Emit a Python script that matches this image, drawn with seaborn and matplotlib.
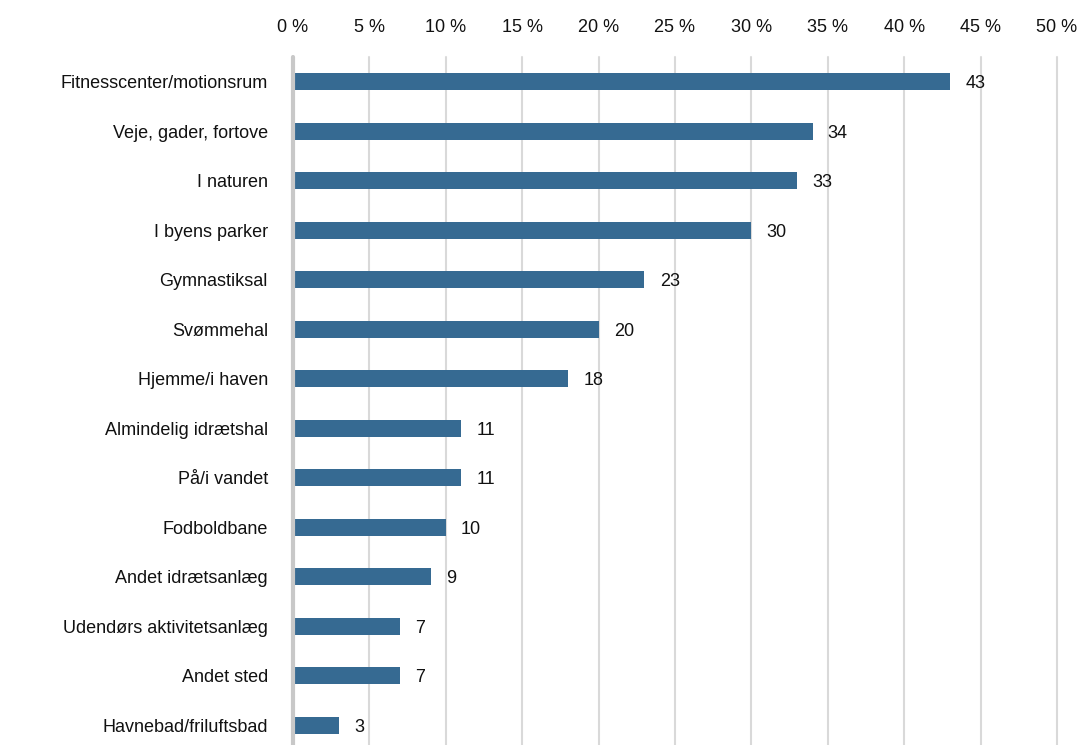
import matplotlib
matplotlib.use("Agg")
import matplotlib.pyplot as plt
import seaborn as sns
import pandas as pd

categories = ["Fitnesscenter/motionsrum", "Veje, gader, fortove", "I naturen",
              "I byens parker", "Gymnastiksal", "Svømmehal", "Hjemme/i haven",
              "Almindelig idrætshal", "På/i vandet", "Fodboldbane",
              "Andet idrætsanlæg", "Udendørs aktivitetsanlæg", "Andet sted",
              "Havnebad/friluftsbad"]
values = [43, 34, 33, 30, 23, 20, 18, 11, 11, 10, 9, 7, 7, 3]
xticks = [0, 5, 10, 15, 20, 25, 30, 35, 40, 45, 50]
xticklabels = [f"{t} %" for t in xticks]

sns.set_theme(style="white")
plt.rcParams['font.family'] = ['Liberation Sans', 'DejaVu Sans']

df = pd.DataFrame({"cat": categories, "val": values})

W, H = 1083, 745
fig = plt.figure(figsize=(W/100, H/100), dpi=100)
ax = fig.add_axes([293/W, 0, (1057-293)/W, (745-57)/H])

sns.barplot(data=df, x="val", y="cat", orient="h", color="#366a92",
            width=0.34, saturation=1, linewidth=0, ax=ax, zorder=3)

ax.set_xlim(0, 50)
ax.set_ylim(13.4, -0.5)
ax.set_xticks(xticks)
ax.set_xticklabels(xticklabels)
ax.xaxis.tick_top()
ax.tick_params(axis="x", length=0, pad=15, labelsize=13, colors="#111111")
ax.tick_params(axis="y", length=0, pad=18, labelsize=13, colors="#111111")
ax.set_xlabel("")
ax.set_ylabel("")
for s in ax.spines.values():
    s.set_visible(False)
for t in xticks[1:]:
    ax.axvline(t, color="#d9d9d9", lw=1.5, zorder=1, clip_on=False)
ax.axvline(0, color="#c8c8c8", lw=3, zorder=4, clip_on=False)

for i, v in enumerate(values):
    ax.text(v + 1.0, i, str(v), va="center_baseline", ha="left", fontsize=13, color="#111111")

fig.savefig("out.png", dpi=100)
